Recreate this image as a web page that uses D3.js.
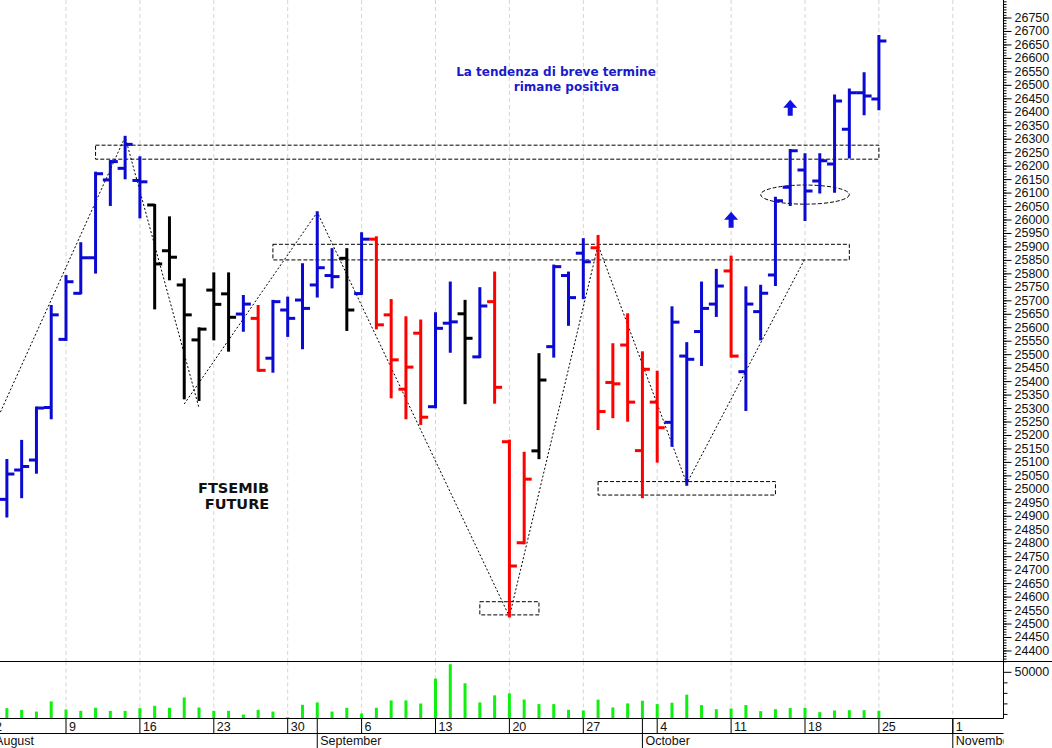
<!DOCTYPE html>
<html><head><meta charset="utf-8">
<script src="https://cdn.jsdelivr.net/npm/d3@7"></script>
<style>body{margin:0;background:#fff}svg{display:block}</style>
</head><body><svg id="c" width="1052" height="748"></svg>
<script>
// ---------- DATA ----------
const dates = ["2021-08-03","2021-08-04","2021-08-05","2021-08-06","2021-08-09","2021-08-10","2021-08-11","2021-08-12","2021-08-13",
"2021-08-16","2021-08-17","2021-08-18","2021-08-19","2021-08-20","2021-08-23","2021-08-24","2021-08-25","2021-08-26","2021-08-27",
"2021-08-30","2021-08-31","2021-09-01","2021-09-02","2021-09-03","2021-09-06","2021-09-07","2021-09-08","2021-09-09","2021-09-10",
"2021-09-13","2021-09-14","2021-09-15","2021-09-16","2021-09-17","2021-09-20","2021-09-21","2021-09-22","2021-09-23","2021-09-24",
"2021-09-27","2021-09-28","2021-09-29","2021-09-30","2021-10-01","2021-10-04","2021-10-05","2021-10-06","2021-10-07","2021-10-08",
"2021-10-11","2021-10-12","2021-10-13","2021-10-14","2021-10-15","2021-10-18","2021-10-19","2021-10-20","2021-10-21","2021-10-22","2021-10-25"];
const opens  = [24961,25070,25107,25302,25555,25726,25858,26147,26190,26145,26054,25884,25757,25553,25738,25724,25649,25633,25485,25664,25701,25757,25792,25856,25725,25927,25646,25370,25578,25305,25615,25650,25490,25695,25175,24800,25141,25528,25792,25875,25895,25395,25534,25142,25322,25247,25493,25584,25686,25809,25435,25658,25794,26120,26184,26143,26206,26335,26471,26447];
const highs  = [25107,25178,25302,25679,25790,25912,26174,26217,26307,26231,26054,26008,25778,25596,25800,25800,25716,25679,25698,25710,25834,26027,25890,25890,25949,25934,25701,25637,25625,25652,25766,25698,25745,25803,25179,25134,25500,25829,25803,25927,25939,25537,25648,25507,25435,25674,25541,25766,25813,25862,25748,25754,26081,26258,26242,26242,26460,26483,26543,26681];
const lows   = [24897,24969,25060,25262,25553,25726,25803,26054,26153,26008,25670,25778,25336,25330,25555,25513,25587,25439,25435,25568,25522,25714,25748,25590,25724,25596,25340,25262,25241,25303,25509,25318,25489,25320,24526,24798,25114,25491,25609,25708,25222,25266,25253,24969,25101,25160,25015,25460,25642,25491,25293,25555,25757,26054,25998,26100,26103,26230,26391,26409];
const closes = [25055,25083,25300,25646,25769,25858,26170,26215,26279,26140,25835,25860,25646,25593,25685,25637,25686,25440,25695,25633,25670,25821,25788,25664,25927,25609,25479,25452,25266,25596,25620,25559,25679,25377,24714,25036,25404,25825,25710,25843,25287,25390,25322,25444,25227,25619,25481,25670,25753,25493,25686,25726,26070,26255,26106,26218,26440,26471,26459,26663];
const trendState = ["up","up","up","up","up","up","up","up","up","up","flat","flat","flat","flat","flat","flat","up","down","up","up",
"up","up","up","flat","up","down","down","down","down","up","up","flat","up","down","down","down","flat","up","up","up",
"down","down","down","down","down","up","up","up","up","down","up","up","up","up","up","up","up","up","up","up"];
const volumes = [15470,13870,12260,21890,14250,12920,15850,12920,12920,15470,17740,15850,25660,16130,12920,12920,9430,13870,12260,6890,
18680,20940,12260,15850,10380,15850,22830,22830,19900,43490,57260,39060,20940,27640,29530,23700,19340,19340,13960,13300,
23580,16130,20000,22550,19340,20660,28300,18400,14530,15190,18400,12640,14530,15570,15850,11700,13300,13580,13580,12920];

const weekTickDates = ["2021-08-02","2021-08-09","2021-08-16","2021-08-23","2021-08-30","2021-09-06","2021-09-13","2021-09-20","2021-09-27","2021-10-04","2021-10-11","2021-10-18","2021-10-25","2021-11-01"];
const weekTickLabels = ["2","9","16","23","30","6","13","20","27","4","11","18","25","1"];
const monthStartDates = ["2021-08-02","2021-09-01","2021-10-01","2021-11-01"];
const monthLabels = ["August","September","October","November"];
const priceTickStep = 50, priceMinorStep = 10;
const volumeTickValues = [50000];
const volumeMinorValues = [10000,20000,30000,40000];

// annotations (dates / price levels)
const zoneFrom = ["2021-08-11","2021-08-27","2021-09-28","2021-09-16"];
const zoneTo   = ["2021-10-25","2021-10-21","2021-10-14","2021-09-22"];
const zoneLow  = [26224,25850,24977,24532];
const zoneHigh = [26276,25908,25027,24581];
const ellipseFrom = "2021-10-13", ellipseTo = "2021-10-21", ellipseLow = 26057, ellipseHigh = 26128;
const swingDates  = ["2021-08-02","2021-08-13","2021-08-20"];
const swingValues = [25217,26307,25300];
const swing2Dates  = ["2021-08-19","2021-09-01","2021-09-20","2021-09-28","2021-10-06","2021-10-18"];
const swing2Values = [25315,26027,24526,25905,25020,25855];
const arrowDates  = ["2021-10-11","2021-10-15"];
const arrowValues = [25969,26385];
const titleLines = ["La tendenza di breve termine","rimane positiva"];
const nameLines = ["FTSEMIB","FUTURE"];

// ---------- LAYOUT ----------
const W = 1052, H = 748;
const plotR = 1003.5, mainB = 661.5, volB = 718.5, dateB = 733.5;
const svg = d3.select("#c");
const colorOf = {up:"#0a0ad2", flat:"#000000", down:"#ff0000"};

// trading calendar (weekdays) for the x position scale
const cal = d3.utcDay.range(new Date("2021-08-02"), new Date("2021-11-02"))
  .filter(d => d.getUTCDay() !== 0 && d.getUTCDay() !== 6)
  .map(d => d3.utcFormat("%Y-%m-%d")(d));
const x = d3.scalePoint().domain(cal).range([-7.9, 952.8]);
const y = d3.scaleLinear().domain([24359, 26815]).range([mainB, 0]);
const yv = d3.scaleLinear().domain([5660, 59800]).range([volB, mainB]);

const defs = svg.append("defs");
defs.append("clipPath").attr("id","cm").append("rect").attr("x",0).attr("y",0).attr("width",plotR).attr("height",mainB);
defs.append("clipPath").attr("id","cv").append("rect").attr("x",0).attr("y",mainB).attr("width",plotR).attr("height",volB-mainB);
defs.append("clipPath").attr("id","cd").append("rect").attr("x",0).attr("y",volB).attr("width",plotR).attr("height",H-volB);

// gridlines
svg.append("g").attr("clip-path","url(#cm)").selectAll("line").data(weekTickDates).join("line")
  .attr("x1",d=>x(d)).attr("x2",d=>x(d)).attr("y1",0).attr("y2",volB)
  .attr("stroke","#d4d4d4").attr("stroke-dasharray","4,3").attr("stroke-width",1);
svg.append("g").attr("clip-path","url(#cv)").selectAll("line").data(weekTickDates).join("line")
  .attr("x1",d=>x(d)).attr("x2",d=>x(d)).attr("y1",mainB).attr("y2",volB)
  .attr("stroke","#d4d4d4").attr("stroke-dasharray","4,3").attr("stroke-width",1);

// annotations: zones
const ann = svg.append("g").attr("clip-path","url(#cm)");
ann.selectAll("rect.zone").data(zoneFrom.map((f,i)=>i)).join("rect").attr("class","zone")
  .attr("x",i=>x(zoneFrom[i])).attr("width",i=>x(zoneTo[i])-x(zoneFrom[i]))
  .attr("y",i=>y(zoneHigh[i])).attr("height",i=>y(zoneLow[i])-y(zoneHigh[i]))
  .attr("fill","none").attr("stroke","#000").attr("stroke-width",1).attr("stroke-dasharray","4,2");
ann.append("ellipse")
  .attr("cx",(x(ellipseFrom)+x(ellipseTo))/2).attr("rx",(x(ellipseTo)-x(ellipseFrom))/2)
  .attr("cy",(y(ellipseLow)+y(ellipseHigh))/2).attr("ry",(y(ellipseLow)-y(ellipseHigh))/2)
  .attr("fill","none").attr("stroke","#000").attr("stroke-width",1).attr("stroke-dasharray","4,2");
const swingLine = d3.line().x(d=>x(d[0])).y(d=>y(d[1]));
ann.append("path").attr("d",swingLine(swingDates.map((d,i)=>[d,swingValues[i]])))
  .attr("fill","none").attr("stroke","#000").attr("stroke-width",1).attr("stroke-dasharray","2,2");
ann.append("path").attr("d",swingLine(swing2Dates.map((d,i)=>[d,swing2Values[i]])))
  .attr("fill","none").attr("stroke","#000").attr("stroke-width",1).attr("stroke-dasharray","2,2");

// price bars
const bars = svg.append("g").attr("clip-path","url(#cm)").selectAll("g").data(dates.map((d,i)=>i)).join("g")
  .attr("stroke",i=>colorOf[trendState[i]]).attr("stroke-width",3);
bars.append("line").attr("x1",i=>x(dates[i])).attr("x2",i=>x(dates[i]))
  .attr("y1",i=>y(highs[i])-1).attr("y2",i=>y(lows[i])+1);
bars.append("line").attr("x1",i=>x(dates[i])-7.5).attr("x2",i=>x(dates[i]))
  .attr("y1",i=>y(opens[i])).attr("y2",i=>y(opens[i]));
bars.append("line").attr("x1",i=>x(dates[i])).attr("x2",i=>x(dates[i])+7.5)
  .attr("y1",i=>y(closes[i])).attr("y2",i=>y(closes[i]));

// arrows
svg.append("g").selectAll("path").data(arrowDates.map((d,i)=>i)).join("path")
  .attr("transform",i=>`translate(${x(arrowDates[i])},${y(arrowValues[i])})`)
  .attr("d","M-2.5,0 L2.5,0 L2.5,-8 L7,-8 L0,-16 L-7,-8 L-2.5,-8 Z")
  .attr("fill","#1010e0");

// volume bars
svg.append("g").attr("clip-path","url(#cv)").selectAll("rect").data(dates.map((d,i)=>i)).join("rect")
  .attr("x",i=>x(dates[i])-1.5).attr("width",3)
  .attr("y",i=>yv(volumes[i])).attr("height",i=>volB-yv(volumes[i]))
  .attr("fill","#10f010");

// frame lines
svg.append("line").attr("x1",0).attr("x2",W).attr("y1",mainB).attr("y2",mainB).attr("stroke","#000");
svg.append("line").attr("x1",0).attr("x2",plotR).attr("y1",volB).attr("y2",volB).attr("stroke","#000");
svg.append("line").attr("x1",0).attr("x2",plotR).attr("y1",dateB).attr("y2",dateB).attr("stroke","#000");

// price axis (right)
const priceMajor = d3.range(24400, 26751, priceTickStep);
const priceMinor = d3.range(24360, 26815, priceMinorStep);
const axMinor = d3.axisRight(y).tickValues(priceMinor).tickSize(3).tickFormat("");
const axMajor = d3.axisRight(y).tickValues(priceMajor).tickSize(8).tickPadding(3).tickFormat(d3.format("d"));
const gMin = svg.append("g").attr("transform",`translate(${plotR},0)`).call(axMinor);
const gMaj = svg.append("g").attr("transform",`translate(${plotR},0)`).call(axMajor);
[gMin,gMaj].forEach(g=>{g.select(".domain").remove();g.selectAll("line").attr("stroke","#000");});
gMaj.selectAll("text").attr("font-family","Liberation Sans, Arial, sans-serif").attr("font-size",12.5).attr("fill","#111");
svg.append("line").attr("x1",plotR).attr("x2",plotR).attr("y1",0).attr("y2",volB).attr("stroke","#000");

// volume axis
const gvMin = svg.append("g").attr("transform",`translate(${plotR},0)`).call(d3.axisRight(yv).tickValues(volumeMinorValues).tickSize(4).tickFormat(""));
const gvMaj = svg.append("g").attr("transform",`translate(${plotR},0)`).call(d3.axisRight(yv).tickValues(volumeTickValues).tickSize(8).tickPadding(3).tickFormat(d3.format("d")));
[gvMin,gvMaj].forEach(g=>{g.select(".domain").remove();g.selectAll("line").attr("stroke","#000");});
gvMaj.selectAll("text").attr("font-family","Liberation Sans, Arial, sans-serif").attr("font-size",12.5).attr("fill","#111");

// date band
const gd = svg.append("g").attr("clip-path","url(#cd)");
gd.selectAll("line.wk").data(weekTickDates).join("line").attr("class","wk")
  .attr("x1",d=>x(d)).attr("x2",d=>x(d)).attr("y1",volB).attr("y2",dateB).attr("stroke","#000");
gd.selectAll("text.wk").data(weekTickDates.map((d,i)=>i)).join("text").attr("class","wk")
  .attr("x",i=>x(weekTickDates[i])+3).attr("y",dateB-3)
  .attr("font-family","Liberation Sans, Arial, sans-serif").attr("font-size",12.5).attr("fill","#111")
  .text(i=>weekTickLabels[i]);
gd.selectAll("line.mo").data(monthStartDates).join("line").attr("class","mo")
  .attr("x1",d=>x(d)).attr("x2",d=>x(d)).attr("y1",volB).attr("y2",H).attr("stroke","#000");
gd.selectAll("text.mo").data(monthStartDates.map((d,i)=>i)).join("text").attr("class","mo")
  .attr("x",i=>x(monthStartDates[i])+3).attr("y",H-3)
  .attr("font-family","Liberation Sans, Arial, sans-serif").attr("font-size",12.5).attr("fill","#111")
  .text(i=>monthLabels[i]);

// texts
svg.append("g").selectAll("text").data(titleLines).join("text")
  .attr("x",(d,i)=>i?566.5:556).attr("y",(d,i)=>i?91:75.7).attr("text-anchor","middle")
  .attr("font-family","DejaVu Sans, Verdana, sans-serif").attr("font-weight","bold").attr("font-size",12)
  .attr("fill","#1a1acd").text(d=>d);
svg.append("g").selectAll("text").data(nameLines).join("text")
  .attr("x",(d,i)=>i?237:233.5).attr("y",(d,i)=>i?509.3:493.3).attr("text-anchor","middle")
  .attr("font-family","DejaVu Sans, Verdana, sans-serif").attr("font-weight","bold").attr("font-size",14.5)
  .attr("fill","#111").text(d=>d);
</script></body></html>
